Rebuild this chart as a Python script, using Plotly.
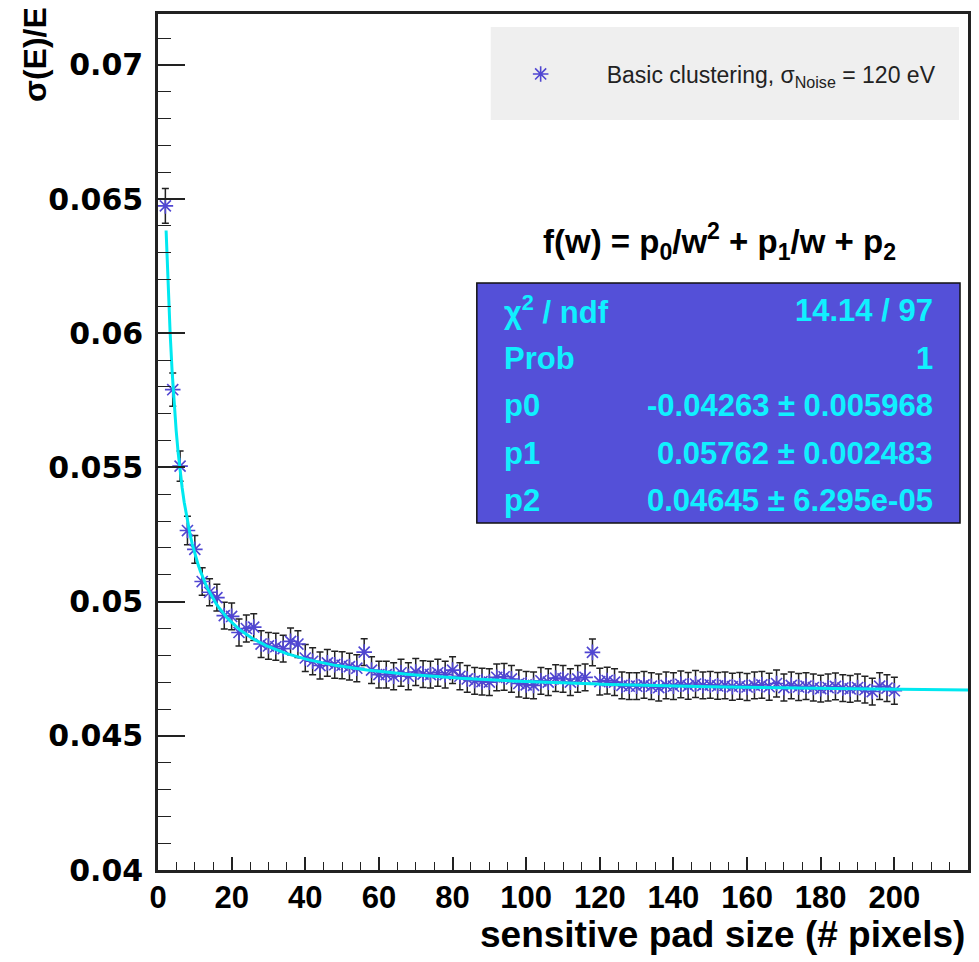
import numpy as np
import plotly.graph_objects as go

# ---- data ----
pad_size = list(range(2, 201, 2))
sigma_e = [
    0.06475, 0.05790, 0.05505, 0.05265, 0.05195, 0.05075, 0.05035, 0.05015, 0.04948, 0.04945,
    0.04885, 0.04900, 0.04905, 0.04842, 0.04835, 0.04832, 0.04825, 0.04852, 0.04842, 0.04790,
    0.04778, 0.04762, 0.04772, 0.04765, 0.04763, 0.04758, 0.04752, 0.04812, 0.04745, 0.04728,
    0.04728, 0.04722, 0.04735, 0.04722, 0.04738, 0.04730, 0.04728, 0.04735, 0.04728, 0.04745,
    0.04722, 0.04712, 0.04705, 0.04702, 0.04700, 0.04718, 0.04720, 0.04712, 0.04695, 0.04690,
    0.04688, 0.04705, 0.04700, 0.04715, 0.04712, 0.04700, 0.04712, 0.04718, 0.04811, 0.04702,
    0.04706, 0.04700, 0.04688, 0.04685, 0.04685, 0.04690, 0.04685, 0.04680, 0.04688, 0.04685,
    0.04692, 0.04686, 0.04693, 0.04688, 0.04690, 0.04686, 0.04688, 0.04683, 0.04686, 0.04682,
    0.04688, 0.04690, 0.04683, 0.04695, 0.04680, 0.04688, 0.04682, 0.04685, 0.04680, 0.04676,
    0.04680, 0.04684, 0.04678, 0.04675, 0.04680, 0.04672, 0.04665, 0.04685, 0.04678, 0.04668,
]
sigma_err = [0.00065, 0.00062, 0.00056, 0.00053, 0.00052, 0.00051] + [0.0005] * 94

# fit parameters shown in the stats box
p0, p1, p2 = -0.04263, 0.05762, 0.04645
stats_labels = ["χ<sup>2</sup> / ndf", "Prob", "p0", "p1", "p2"]
stats_values = ["14.14 / 97", "1", "-0.04263 ± 0.005968", "0.05762 ± 0.002483", "0.04645 ± 6.295e-05"]

x_ticks = list(range(0, 201, 20))
y_ticks = [0.04, 0.045, 0.05, 0.055, 0.06, 0.065, 0.07]
y_ticktext = ["0.04", "0.045", "0.05", "0.055", "0.06", "0.065", "0.07"]

# fit curve evaluated from the displayed function
w_fit = np.linspace(2.2, 220, 400)
f_fit = p0 / w_fit**2 + p1 / w_fit + p2

# ---- figure ----
W, H = 979, 962
L, R, T, B = 158, 8, 14, 92
pw, ph = W - L - R, H - T - B

def px(x):
    return (x - L) / pw

def py(y):
    return (H - B - y) / ph

fig = go.Figure()
fig.add_trace(go.Scatter(
    x=pad_size, y=sigma_e, mode="markers",
    name="\u2003\u2003Basic clustering, σ<sub>Noise</sub> = 120 eV",
    marker=dict(symbol="asterisk-open", size=13, color="#5046d2", line=dict(width=1.6, color="#5046d2")),
    error_y=dict(type="data", array=sigma_err, visible=True, color="#222222", thickness=1.5, width=3.5),
))
fig.add_trace(go.Scatter(
    x=w_fit, y=f_fit, mode="lines", showlegend=False,
    line=dict(color="#00e8f0", width=3),
))

axis_common = dict(showgrid=False, zeroline=False, showline=True, mirror=True,
                   linecolor="#222222", linewidth=2.5, ticks="inside", tickcolor="#222222")

fig.update_xaxes(range=[0, 220], tickvals=x_ticks, ticklen=13, tickwidth=1.5,
                 minor=dict(dtick=5, tick0=0, ticks="inside", ticklen=8, tickcolor="#222222", tickwidth=1.2),
                 tickfont=dict(family="Liberation Sans, Arial", size=31, color="black", weight="bold"),
                 ticklabelstandoff=-2,
                 **axis_common)
fig.update_yaxes(range=[0.04, 0.0719], tickvals=y_ticks, ticktext=y_ticktext, ticklen=27, tickwidth=1.5,
                 minor=dict(dtick=0.001, tick0=0.04, ticks="inside", ticklen=13, tickcolor="#222222", tickwidth=1.2),
                 tickfont=dict(family="DejaVu Sans", size=30, color="black", weight="bold"),
                 ticklabelstandoff=6,
                 **axis_common)

shapes = [
    dict(type="rect", xref="paper", yref="paper", x0=px(492), x1=px(962), y0=py(120), y1=py(27),
         fillcolor="#efefef", line=dict(width=0), layer="below"),
    dict(type="rect", xref="paper", yref="paper", x0=px(478), x1=px(963), y0=py(523), y1=py(283),
         fillcolor="#5450d8", line=dict(color="#111111", width=1.5), layer="above"),
]

annotations = [
    dict(text="σ(E)/E", xref="paper", yref="paper", x=px(35), y=py(5), xanchor="center", yanchor="top",
         textangle=-90, showarrow=False,
         font=dict(family="Liberation Sans, Arial", size=32, color="black", weight="bold")),
    dict(text="sensitive pad size (# pixels)", xref="paper", yref="paper", x=px(970), y=py(934),
         xanchor="right", yanchor="middle", showarrow=False,
         font=dict(family="Liberation Sans, Arial", size=37, color="black", weight="bold")),
    dict(text="f(w) = p<sub>0</sub>/w<sup>2</sup> + p<sub>1</sub>/w + p<sub>2</sub>", xref="paper", yref="paper",
         x=px(722), y=py(242), xanchor="center", yanchor="middle", showarrow=False,
         font=dict(family="Liberation Sans, Arial", size=33, color="black", weight="bold")),
]
row_y = [310, 358, 405, 453, 500]
for lab, val, yy in zip(stats_labels, stats_values, row_y):
    annotations.append(dict(text=lab, xref="paper", yref="paper", x=px(503), y=py(yy), xanchor="left",
                            yanchor="middle", showarrow=False,
                            font=dict(family="Liberation Sans, Arial", size=31, color="#10f0ff", weight="bold")))
    annotations.append(dict(text=val, xref="paper", yref="paper", x=px(938), y=py(yy), xanchor="right",
                            yanchor="middle", showarrow=False,
                            font=dict(family="Liberation Sans, Arial", size=31, color="#10f0ff", weight="bold")))

fig.update_layout(
    width=W, height=H, margin=dict(l=L, r=R, t=T, b=B),
    paper_bgcolor="white", plot_bgcolor="white",
    showlegend=True,
    legend=dict(x=px(522), y=py(74), xanchor="left", yanchor="middle", bgcolor="rgba(0,0,0,0)",
                font=dict(family="Liberation Sans, Arial", size=23, color="#222222")),
    shapes=shapes, annotations=annotations,
)

fig.write_html("out.html")
